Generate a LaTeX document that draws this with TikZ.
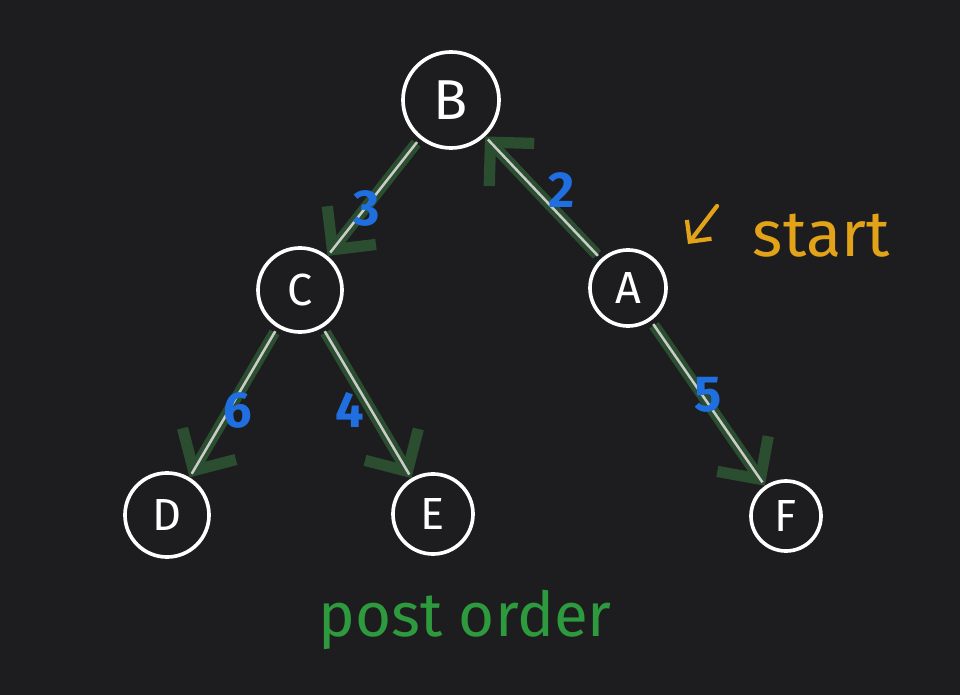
\documentclass[tikz,border=0pt]{standalone}
\usepackage{fontspec}
\setmainfont{Fira Sans}
\usetikzlibrary{arrows.meta}

\definecolor{board}{HTML}{1D1D20}
\definecolor{chalkgrey}{HTML}{C9CCC9}
\definecolor{trailgreen}{HTML}{2A4E2F}
\definecolor{penblue}{HTML}{1F6FE0}
\definecolor{penorange}{HTML}{E3A318}
\definecolor{pengreen}{HTML}{2E9A3E}

\tikzset{
    vertex/.style={circle, draw=white, line width=2.6pt, text=white, inner sep=0pt,
        font=\fontsize{32}{32}\selectfont},
    trail/.style={draw=trailgreen, line width=8pt, shorten <=4pt,
        -{Straight Barb[length=22pt,width=44pt]}},
    chalk/.style={draw=chalkgrey, line width=1.8pt, shorten <=3pt, shorten >=3pt},
    order/.style={text=penblue, font=\fontsize{36}{36}\selectfont\bfseries},
}

\begin{document}
\begin{tikzpicture}[x=0.025cm, y=-0.025cm]
    \fill[board] (0,0) rectangle (960,695);

    % the tree
    \node[vertex, minimum size=2.4cm, font=\fontsize{40}{40}\selectfont] (B) at (451,100) {B};
    \node[vertex, minimum size=2.1cm] (C) at (300,290) {C};
    \node[vertex, minimum size=1.9cm] (A) at (628,288) {A};
    \node[vertex, minimum size=2.1cm] (D) at (167,515) {D};
    \node[vertex, minimum size=2.0cm] (E) at (433,514) {E};
    \node[vertex, minimum size=1.75cm] (F) at (786,516) {F};

    % edges, the green trail shows the way of the walk
    \foreach \u/\v/\p/\q in {B/C/231/51, A/B/133/313, C/D/239/59, C/E/301/121, A/F/305/125}
    {
        \draw[trail] (\u.\p) -- (\v.\q);
        \draw[chalk] (\u.\p) -- (\v.\q);
    }

    % step numbers
    \node[order] (n2) at (562,190) {2};
    \node[order] (n3) at (367,208) {3};
    \node[order] (n4) at (350,410) {4};
    \node[order] (n5) at (708,395) {5};
    \node[order] (n6) at (238,410) {6};

    % start mark
    \coordinate (s1) at (717,206);
    \coordinate (s2) at (688,244);
    \draw[draw=penorange, line width=3pt, line cap=round, -{Straight Barb[length=11pt,width=22pt]}] (s1) -- (s2);
    \node[text=penorange, font=\fontsize{46}{46}\selectfont, anchor=west] (start) at (748,236) {start};

    \node[text=pengreen, font=\fontsize{44}{44}\selectfont] (title) at (465,620) {post order};
\end{tikzpicture}
\end{document}
